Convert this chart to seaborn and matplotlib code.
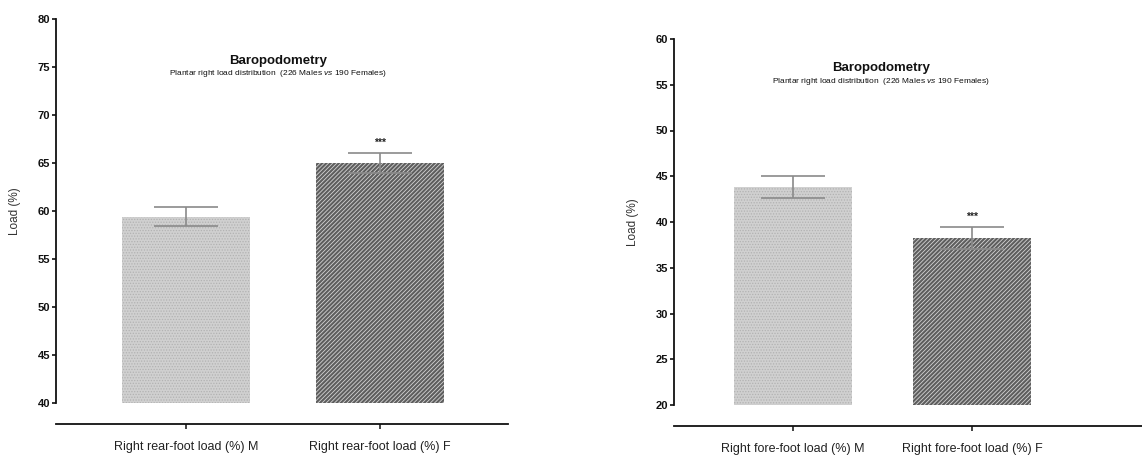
import matplotlib
matplotlib.use("Agg")
import matplotlib.pyplot as plt
import seaborn as sns
import pandas as pd

# ---- data ----
rear_categories = ["Right rear-foot load (%) M", "Right rear-foot load (%) F"]
rear_means = [59.4, 65.0]
rear_sem = [1.0, 1.0]

fore_categories = ["Right fore-foot load (%) M", "Right fore-foot load (%) F"]
fore_means = [43.8, 38.25]
fore_sem = [1.2, 1.25]

rear_ticks = [40, 45, 50, 55, 60, 65, 70, 75, 80]
fore_ticks = [20, 25, 30, 35, 40, 45, 50, 55, 60]

title = "Baropodometry"
subtitle = "Plantar right load distribution  (226 Males $\\it{vs}$ 190 Females)"
ylabel = "Load (%)"
signif = "***"

sns.set_theme(style="white")
plt.rcParams["font.family"] = ["Liberation Sans", "DejaVu Sans"]
plt.rcParams["mathtext.fontset"] = "custom"
plt.rcParams["mathtext.rm"] = "Liberation Sans"
plt.rcParams["mathtext.it"] = "Liberation Sans:italic"
plt.rcParams["hatch.linewidth"] = 0.6

W, H = 1142, 457
fig = plt.figure(figsize=(W / 100, H / 100), dpi=100)


def px_axes(l, r, t, b):
    return fig.add_axes([l / W, (H - b) / H, (r - l) / W, (b - t) / H])


def panel(ax, cats, means, sems, ticks, xlim, tpos, spos):
    df = pd.DataFrame({"cat": cats, "val": means})
    sns.barplot(data=df, x="cat", y="val", ax=ax, width=0.66,
                palette=["#d0d0d0", "#5e5e5e"], hue="cat", legend=False,
                linewidth=0, saturation=1)
    hatches = ["......", "////////"]
    hcolors = ["#b2b2b2", "#d4d4d4"]
    for p, h, hc in zip(ax.patches, hatches, hcolors):
        p.set_hatch(h)
        p.set_edgecolor(hc)
        p.set_linewidth(0)
    ax.errorbar([0, 1], means, yerr=sems, fmt="none", ecolor="#8a8a8a",
                elinewidth=1.2, capsize=23, capthick=1.2, zorder=5)
    ax.text(1, means[1] + sems[1] + 1.1, signif, ha="center", va="center",
            fontsize=7.5, fontweight="bold", color="#222222")
    ax.set_ylim(ticks[0], ticks[-1])
    ax.set_yticks(ticks)
    ax.set_xlim(*xlim)
    ax.set_xlabel("")
    ax.set_ylabel(ylabel, fontsize=8.5, color="#333333", labelpad=12)
    for s in ["top", "right"]:
        ax.spines[s].set_visible(False)
    ax.spines["left"].set_linewidth(1.3)
    ax.spines["left"].set_color("#111111")
    ax.spines["bottom"].set_linewidth(1.3)
    ax.spines["bottom"].set_color("#111111")
    ax.spines["bottom"].set_position(("outward", 15))
    ax.tick_params(axis="y", left=True, length=3, width=1.2, pad=1,
                   labelsize=8, colors="#111111")
    for lab in ax.get_yticklabels():
        lab.set_fontweight("bold")
    ax.tick_params(axis="x", bottom=True, length=3.5, width=1.2, pad=9,
                   labelsize=9, colors="#222222")
    ax.text(tpos[0], tpos[1], title, transform=ax.transAxes, ha="center",
            va="center", fontsize=9.5, fontweight="bold", color="#111111")
    ax.text(spos[0], spos[1], subtitle, transform=ax.transAxes, ha="center",
            va="center", fontsize=6, color="#111111")
    ax.grid(False)


ax1 = px_axes(56, 508, 19, 403)
panel(ax1, rear_categories, rear_means, rear_sem, rear_ticks,
      (-0.670, 1.660), (0.491, 0.891), (0.491, 0.857))

ax2 = px_axes(674, 1142, 39, 405)
panel(ax2, fore_categories, fore_means, fore_sem, fore_ticks,
      (-0.665, 1.95), (0.442, 0.921), (0.442, 0.885))

fig.savefig("out.png", dpi=100, facecolor="white")
